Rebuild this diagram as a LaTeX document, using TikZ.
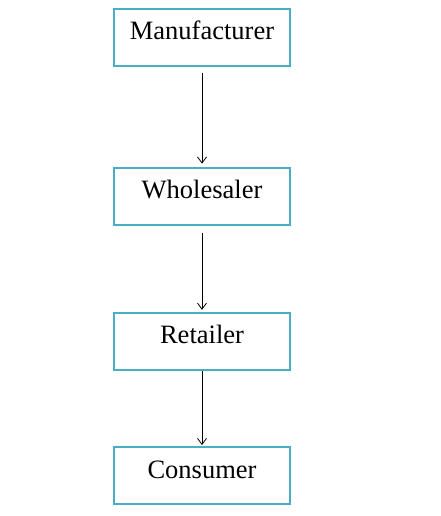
\documentclass[tikz,border=0pt]{standalone}
\usepackage{fontspec}
\setmainfont{Liberation Serif}
\usetikzlibrary{arrows.meta, positioning}
\definecolor{boxline}{RGB}{75,172,198}

\begin{document}
\begin{tikzpicture}[
    x=1pt, y=1pt,
    stage/.style={rectangle, draw=boxline, line width=2.2pt, minimum width=176pt, inner sep=0pt,
                  text height=31pt, text depth=26pt, font=\fontsize{26.5}{30}\selectfont},
    flow/.style={-{Straight Barb[length=6pt, width=9pt]}, line width=0.8pt}
]
    \useasboundingbox (0,0) rectangle (440,-516);
    \node (manu) [stage] at (202,-37.5) {Manufacturer};
    \node (whole) [stage, below=99.5pt of manu] {Wholesaler};
    \node (retail) [stage, below=86pt of whole] {Retailer};
    \node (cons) [stage, below=75pt of retail] {Consumer};

    \draw [flow, shorten <=6pt, shorten >=3pt] (manu) -- (whole);
    \draw [flow, shorten <=7pt, shorten >=2pt] (whole) -- (retail);
    \draw [flow, shorten >=1pt] (retail) -- (cons);
\end{tikzpicture}
\end{document}
